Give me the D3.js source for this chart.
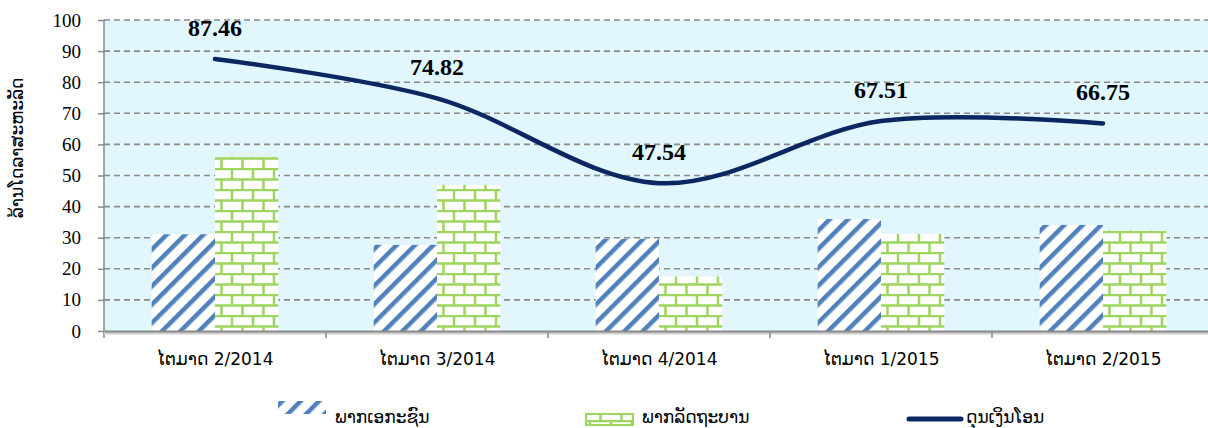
<!DOCTYPE html>
<html>
<head>
<meta charset="utf-8">
<script src="https://cdn.jsdelivr.net/npm/d3@7"></script>
<style>
  body { margin: 0; background: #fff; }
  svg { display: block; }
  .num { font-family: "Liberation Serif", "DejaVu Serif", serif; }
</style>
</head>
<body>
<svg id="chart" width="1208" height="428"></svg>
<script>
// data
let quarters = ["ໄຕມາດ 2/2014", "ໄຕມາດ 3/2014", "ໄຕມາດ 4/2014", "ໄຕມາດ 1/2015", "ໄຕມາດ 2/2015"];
let privateSector = [31.1, 27.7, 29.6, 36.0, 34.1];
let govSector = [56.0, 47.0, 17.5, 31.2, 32.3];
let transferBalance = [87.46, 74.82, 47.54, 67.51, 66.75];
let yTicks = [0, 10, 20, 30, 40, 50, 60, 70, 80, 90, 100];
let seriesNames = ["ພາກເອກະຊົນ", "ພາກລັດຖະບານ", "ດຸນເງິນໂອນ"];
let yLabel = "ລ້ານໂດລາສະຫະລັດ";

let chart = d3.select("#chart");
let lao = "'DejaVu Sans', 'Liberation Sans', sans-serif";

let plotLeft = 104, plotTop = 20, plotBottom = 331, plotRight = 1214;

let x = d3.scaleBand()
    .domain(quarters)
    .range([plotLeft, plotRight]);

let xSub = d3.scaleBand()
    .domain(["p", "g"])
    .range([0, x.bandwidth()])
    .paddingOuter(0.753);

let y = d3.scaleLinear()
    .domain([0, 100])
    .range([plotBottom, plotTop]);

// patterns
let defs = chart.append("defs");
let hatch = defs.append("pattern")
    .attr("id", "hatch")
    .attr("patternUnits", "userSpaceOnUse")
    .attr("width", 13).attr("height", 13)
    .attr("patternTransform", "rotate(45)");
hatch.append("rect").attr("width", 13).attr("height", 13).attr("fill", "#fff");
hatch.append("rect").attr("x", 0).attr("width", 4.5).attr("height", 13).attr("fill", "#4f81bd");

let brick = defs.append("pattern")
    .attr("id", "brick")
    .attr("patternUnits", "userSpaceOnUse")
    .attr("width", 21).attr("height", 21);
brick.append("rect").attr("width", 21).attr("height", 21).attr("fill", "#fff");
brick.append("path")
    .attr("d", "M0,1 H21 M0,11.5 H21 M2,1 V11.5 M12.5,11.5 V21")
    .attr("stroke", "#9dd55f")
    .attr("stroke-width", 2.5)
    .attr("fill", "none");

// plot background
chart.append("rect")
    .attr("x", plotLeft).attr("y", plotTop)
    .attr("width", plotRight - plotLeft).attr("height", plotBottom - plotTop)
    .attr("fill", "#e1f6fd");

// gridlines
chart.append("g")
    .selectAll("line")
    .data(yTicks.filter(d => d > 0))
    .enter()
    .append("line")
    .attr("x1", plotLeft).attr("x2", plotRight)
    .attr("y1", d => y(d)).attr("y2", d => y(d))
    .attr("stroke", "#8a8a8a")
    .attr("stroke-width", 1.6)
    .attr("stroke-dasharray", "6,4");

// bars
let groups = chart.append("g")
    .selectAll("g")
    .data(quarters)
    .enter()
    .append("g")
    .attr("transform", d => "translate(" + x(d) + ",0)");

groups.append("rect")
    .attr("x", xSub("p"))
    .attr("width", xSub.bandwidth())
    .attr("y", (d, i) => y(privateSector[i]))
    .attr("height", (d, i) => plotBottom - y(privateSector[i]))
    .attr("fill", "url(#hatch)");

groups.append("rect")
    .attr("x", xSub("g"))
    .attr("width", xSub.bandwidth())
    .attr("y", (d, i) => y(govSector[i]))
    .attr("height", (d, i) => plotBottom - y(govSector[i]))
    .attr("fill", "url(#brick)");

// y axis
let yAxis = d3.axisLeft(y)
    .tickValues(yTicks)
    .tickSize(6)
    .tickPadding(17);
let yAxisGroup = chart.append("g")
    .attr("transform", "translate(" + plotLeft + ",0)")
    .attr("font-family", null)
    .call(yAxis);
yAxisGroup.attr("font-family", null);
yAxisGroup.select(".domain").attr("stroke", "#8a8a8a").attr("stroke-width", 1.5)
    .attr("d", "M0," + plotTop + "V" + (plotBottom + 7));
yAxisGroup.selectAll(".tick line").attr("stroke", "#8a8a8a").attr("stroke-width", 1.5);
yAxisGroup.selectAll(".tick text")
    .attr("class", "num")
    .style("font-size", "19px")
    .attr("fill", "#000");

// x axis
chart.append("line")
    .attr("x1", plotLeft).attr("x2", plotRight)
    .attr("y1", plotBottom + 2).attr("y2", plotBottom + 2)
    .attr("stroke", "#cfcfcf").attr("stroke-width", 3);
let xAxis = d3.axisBottom(x)
    .tickSize(0)
    .tickPadding(22);
let xAxisGroup = chart.append("g")
    .attr("transform", "translate(0," + plotBottom + ")")
    .call(xAxis);
xAxisGroup.select(".domain").attr("stroke", "#8a8a8a").attr("stroke-width", 2);
xAxisGroup.selectAll(".tick text")
    .style("font-family", lao)
    .style("font-size", "17px")
    .attr("fill", "#000");
chart.append("g")
    .selectAll("line")
    .data(quarters.slice(1))
    .enter()
    .append("line")
    .attr("x1", d => x(d)).attr("x2", d => x(d))
    .attr("y1", plotBottom).attr("y2", plotBottom + 7)
    .attr("stroke", "#8a8a8a").attr("stroke-width", 1.5);

// line
let line = d3.line()
    .x((d, i) => x(quarters[i]) + x.bandwidth() / 2)
    .y(d => y(d))
    .curve(d3.curveCatmullRom.alpha(0));
chart.append("path")
    .datum(transferBalance)
    .attr("fill", "none")
    .attr("stroke", "#0a2762")
    .attr("stroke-width", 4.5)
    .attr("stroke-linecap", "round")
    .attr("d", line);

// data labels
chart.append("g")
    .selectAll("text")
    .data(transferBalance)
    .enter()
    .append("text")
    .attr("class", "num")
    .attr("x", (d, i) => x(quarters[i]) + x.bandwidth() / 2)
    .attr("y", d => y(d) - 23)
    .attr("text-anchor", "middle")
    .style("font-size", "24px")
    .style("font-weight", "bold")
    .text(d => d.toFixed(2));

// y label
chart.append("text")
    .attr("transform", "translate(23,148) rotate(-90)")
    .attr("text-anchor", "middle")
    .style("font-family", lao)
    .style("font-size", "17px")
    .text(yLabel);

// legend
let legend = chart.append("g");
legend.append("rect")
    .attr("x", 278).attr("y", 401).attr("width", 48).attr("height", 13)
    .attr("fill", "url(#hatch)");
legend.append("rect")
    .attr("x", 586).attr("y", 414).attr("width", 47).attr("height", 11)
    .attr("fill", "url(#brick)")
    .attr("stroke", "#9dd55f").attr("stroke-width", 2);
legend.append("line")
    .attr("x1", 909).attr("x2", 961)
    .attr("y1", 419).attr("y2", 419)
    .attr("stroke", "#0a2762").attr("stroke-width", 5)
    .attr("stroke-linecap", "round");
legend.selectAll("text")
    .data(seriesNames)
    .enter()
    .append("text")
    .attr("x", (d, i) => [335, 642, 966][i])
    .attr("y", 423)
    .style("font-family", lao)
    .style("font-size", "17px")
    .text(d => d);
</script>
</body>
</html>
